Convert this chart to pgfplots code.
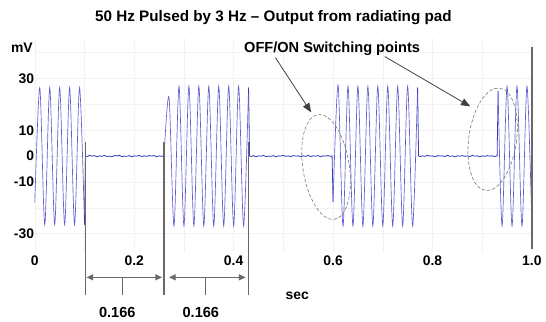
\documentclass[border=0pt]{standalone}
\usepackage{fontspec}
\setmainfont{Liberation Sans}
\usepackage{pgfplots}
\pgfplotsset{compat=1.18}
\usetikzlibrary{arrows.meta,shapes.geometric}

\definecolor{trace}{RGB}{95,95,210}
\definecolor{base}{RGB}{60,60,190}
\definecolor{annot}{RGB}{105,105,105}

% Gated 50 Hz signal: bursts are drawn through their peaks and troughs,
% the quiet stretches (with their small noise) and switching edges as straight segments.
\pgfplotstableread{
t mV
0.000 -18
0.010 26.5
0.020 -26.5
0.030 26.5
0.040 -26.5
0.050 26.5
0.060 -26.5
0.070 26.5
0.080 -26.5
0.090 26.5
0.100 -26.5
}\burstA
\pgfplotstableread{
t mV
0.100 -26.5
0.102 0.1
0.105 -0.2
0.110 0.3
0.115 0.0
0.120 0.2
0.125 -0.3
0.130 0.1
0.135 -0.1
0.140 0.3
0.145 -0.2
0.150 0.0
0.155 -0.3
0.160 0.2
0.165 0.1
0.170 0.3
0.175 -0.2
0.180 0.0
0.185 -0.1
0.190 0.2
0.195 -0.3
0.200 0.1
0.205 0.0
0.210 0.3
0.215 -0.2
0.220 0.1
0.225 -0.1
0.230 0.2
0.235 0.0
0.240 0.2
0.245 -0.3
0.250 0.1
0.255 -0.1
0.260 0.1
}\quietA
\pgfplotstableread{
t mV
0.260 0.1
0.270 22.7
0.280 -27
0.290 27
0.300 -27
0.310 27
0.320 -27
0.330 27
0.340 -27
0.350 27
0.360 -27
0.370 27
0.380 -27
0.390 27
0.400 -27
0.410 27
0.420 -27
0.430 26.5
}\burstB
\pgfplotstableread{
t mV
0.430 26.5
0.432 0.1
0.435 -0.2
0.440 0.2
0.445 -0.3
0.450 0.1
0.455 0.0
0.460 0.3
0.465 -0.2
0.470 0.0
0.475 -0.1
0.480 0.2
0.485 -0.3
0.490 0.1
0.495 0.0
0.500 0.3
0.505 -0.1
0.510 0.1
0.515 -0.2
0.520 0.2
0.525 0.0
0.530 0.1
0.535 -0.3
0.540 0.1
0.545 -0.1
0.550 0.3
0.555 -0.2
0.560 0.1
0.565 0.0
0.570 0.2
0.575 -0.3
0.580 0.1
0.585 0.0
0.590 0.2
0.595 -0.1
0.598 0.1
0.600 -17.7
}\quietB
\pgfplotstableread{
t mV
0.600 -17.7
0.610 27.5
0.620 -27
0.630 27
0.640 -27
0.650 27
0.660 -27
0.670 27
0.680 -27
0.690 27
0.700 -27
0.710 27
0.720 -27
0.730 27
0.740 -27
0.750 27
0.760 -27
0.770 26.5
}\burstC
\pgfplotstableread{
t mV
0.770 26.5
0.772 0.1
0.775 -0.2
0.780 0.1
0.785 -0.1
0.790 0.3
0.795 0.0
0.800 0.1
0.805 -0.3
0.810 0.2
0.815 0.0
0.820 0.1
0.825 -0.2
0.830 0.3
0.835 -0.1
0.840 0.1
0.845 -0.3
0.850 0.1
0.855 0.0
0.860 0.2
0.865 -0.1
0.870 0.1
0.875 -0.2
0.880 0.3
0.885 0.0
0.890 0.1
0.895 -0.3
0.900 0.1
0.905 -0.1
0.910 0.2
0.915 0.0
0.920 0.1
0.925 -0.2
0.930 0.1
0.932 25
}\quietC
\pgfplotstableread{
t mV
0.932 25
0.940 -27
0.950 27
0.960 -27
0.970 27
0.980 -27
0.990 27
1.000 -27
}\burstD

\begin{document}
\begin{tikzpicture}
\begin{axis}[
  scale only axis, width=375pt, height=161.25pt,
  xmin=0, xmax=1, ymin=-36.92, ymax=45.77,
  clip=false,
  axis line style={draw=none},
  major tick length=0pt, minor tick length=0pt,
  xtick={0,0.2,0.4,0.6,0.8,1.0},
  xticklabels={0,0.2,0.4,0.6,0.8,1.0},
  minor xtick={0.1,0.3,0.5,0.7,0.9},
  ytick={-30,-10,0,10,30},
  yticklabels={-30,-10,0,10,30},
  minor ytick={-20,20,40},
  grid=both,
  major grid style={gray!10},
  minor grid style={gray!10},
  tick label style={font=\bfseries\fontsize{10.5}{12}\selectfont},
  y tick label style={xshift=3pt},
]
% page extent
\path (axis cs:-0.07,60.38) rectangle (axis cs:1.022,-63.08);

% signal
\addplot[trace, line width=0.5pt, smooth] table[x=t,y=mV] {\burstA};
\addplot[base, line width=0.6pt] table[x=t,y=mV] {\quietA};
\addplot[trace, line width=0.5pt, smooth] table[x=t,y=mV] {\burstB};
\addplot[base, line width=0.6pt] table[x=t,y=mV] {\quietB};
\addplot[trace, line width=0.5pt, smooth] table[x=t,y=mV] {\burstC};
\addplot[base, line width=0.6pt] table[x=t,y=mV] {\quietC};
\addplot[trace, line width=0.5pt, smooth] table[x=t,y=mV] {\burstD};

% switching markers and the 0.166 s dimensions
\draw[annot, line width=0.9pt] (axis cs:0.102,5.4) -- (axis cs:0.102,-53.8);
\draw[annot, line width=0.9pt] (axis cs:0.260,5.4) -- (axis cs:0.260,-53.8);
\draw[annot, line width=0.9pt] (axis cs:0.430,5.4) -- (axis cs:0.430,-53.8);
\draw[annot, line width=0.9pt] (axis cs:1.000,42.3) -- (axis cs:1.000,-35.8);
\draw[annot, line width=0.9pt, {Triangle[length=5pt,width=4.5pt]}-{Triangle[length=5pt,width=4.5pt]}]
  (axis cs:0.104,-46.9) -- (axis cs:0.256,-46.9);
\draw[annot, line width=0.9pt, {Triangle[length=5pt,width=4.5pt]}-{Triangle[length=5pt,width=4.5pt]}]
  (axis cs:0.270,-46.9) -- (axis cs:0.424,-46.9);
\draw[annot, line width=0.9pt] (axis cs:0.176,-46.9) -- (axis cs:0.176,-53.8);
\draw[annot, line width=0.9pt] (axis cs:0.344,-46.9) -- (axis cs:0.344,-53.8);
\node[font=\bfseries\fontsize{11}{13}\selectfont] at (axis cs:0.166,-60.4) {0.166};
\node[font=\bfseries\fontsize{11}{13}\selectfont] at (axis cs:0.334,-60.4) {0.166};

% switching point callouts
\node[draw=annot, dashed, dash pattern=on 2.5pt off 1.5pt, ellipse, inner sep=0pt,
  minimum width=35pt, minimum height=80pt, rotate=9] at (axis cs:0.586,-4.2) {};
\node[draw=annot, dashed, dash pattern=on 2.5pt off 1.5pt, ellipse, inner sep=0pt,
  minimum width=36pt, minimum height=78pt, rotate=-8] at (axis cs:0.921,6.5) {};
\draw[black!75, line width=0.6pt, -{Triangle[length=7pt,width=5.5pt]}]
  (axis cs:0.484,38.1) -- (axis cs:0.556,16.9);
\draw[black!75, line width=0.6pt, -{Triangle[length=7pt,width=5.5pt]}]
  (axis cs:0.704,38.5) -- (axis cs:0.876,19.2);
\node[font=\bfseries\fontsize{11}{13}\selectfont] at (axis cs:0.598,41.5) {OFF/ON Switching points};

% titles and units
\node[font=\bfseries\fontsize{11.5}{14}\selectfont] at (axis cs:0.48,53.5)
  {50 Hz Pulsed by 3 Hz – Output from radiating pad};
\node[font=\bfseries\fontsize{10.5}{12}\selectfont] at (axis cs:-0.026,41.9) {mV};
\node[font=\bfseries\fontsize{10.5}{12}\selectfont] at (axis cs:0.528,-54.2) {sec};
\end{axis}
\end{tikzpicture}
\end{document}
